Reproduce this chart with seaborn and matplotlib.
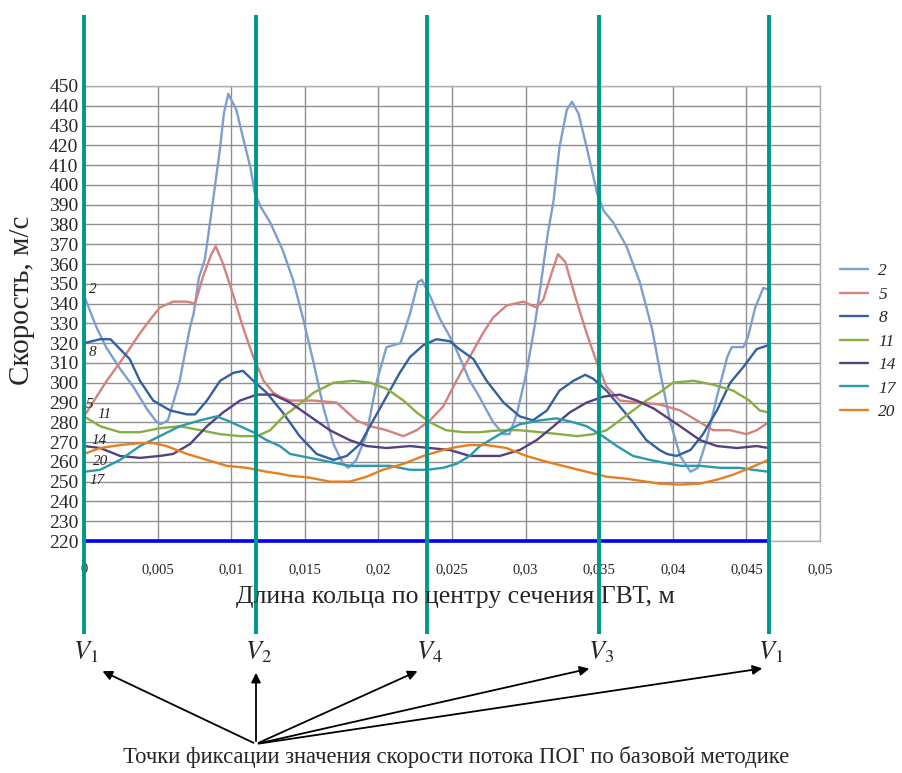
import numpy as np
import pandas as pd
import matplotlib
matplotlib.use("Agg")
import matplotlib.pyplot as plt
import seaborn as sns

# distances along the ring, mm (converted to m below)
x2 = [0, 0.85, 1.5, 2.45, 3.35, 4.25, 4.95, 5.2, 5.7, 6.5, 7.2, 7.45, 7.8, 8.2, 8.45, 8.8, 9.25, 9.5, 9.8,
      10.35, 10.8, 11.3, 11.6, 12.0, 12.65, 13.5, 14.2, 14.9, 15.6, 16.25, 16.95, 17.6, 17.95, 18.5, 19.2,
      19.9, 20.55, 21.5, 22.15, 22.7, 22.95, 23.5, 24.2, 25.1, 25.8, 26.2, 26.7, 27.8, 28.5, 28.9, 29.4,
      30.05, 30.6, 31.0, 31.5, 31.9, 32.3, 32.8, 33.15, 33.6, 34.15, 34.85, 35.3, 35.95, 36.85, 37.75,
      38.6, 39.15, 39.8, 40.5, 41.2, 41.7, 42.3, 43.0, 43.7, 44.0, 44.8, 45.1, 45.6, 46.15, 46.5]
v2 = [344, 328, 318, 307, 298, 287, 280, 279, 281, 301, 328, 335, 353, 362, 375, 394, 419, 436, 446,
      438, 424, 409, 396, 389, 381, 367, 352, 332, 310, 288, 269, 259, 257, 261, 274,
      301, 318, 320, 335, 351, 352, 344, 332, 320, 308, 301, 295, 280, 274, 274, 284,
      305, 328, 348, 375, 392, 419, 438, 442, 436, 419, 396, 387, 381, 369, 351,
      327, 305, 281, 263, 255, 257, 271, 293, 313, 318, 318, 323, 338, 348, 347]

x5 = [0, 1.55, 2.9, 3.8, 4.5, 5.15, 6.05, 7.0, 7.55, 8.1, 8.65, 8.95, 9.45, 10.15, 10.8, 11.5, 12.2, 12.85,
      13.3, 14.0, 15.6, 17.15, 18.5, 19.45, 20.55, 21.7, 22.6, 23.5, 24.4, 25.3, 26.2, 27.1, 27.8, 28.7,
      29.85, 30.75, 31.2, 31.75, 32.2, 32.7, 33.35, 34.15, 34.85, 35.5, 36.4, 37.75, 39.1, 40.5, 41.85,
      42.75, 43.9, 45.0, 45.7, 46.5]
v5 = [283, 301, 315, 325, 332, 338, 341, 341, 340, 354, 365, 369, 360, 344, 328, 313, 301, 295,
      293, 291, 291, 290, 281, 278, 276, 273, 276, 281, 288, 301, 313, 325, 333, 339,
      341, 338, 342, 355, 365, 361, 344, 325, 310, 298, 291, 290, 289, 286, 280,
      276, 276, 274, 276, 280]

x8 = [0, 1.1, 1.8, 2.45, 3.1, 3.8, 4.7, 5.85, 7.0, 7.55, 8.35, 9.25, 10.15, 10.8, 11.5, 12.4, 13.5, 14.65,
      15.8, 16.95, 17.85, 18.75, 19.65, 20.55, 21.45, 22.15, 23.05, 23.95, 24.85, 25.5, 26.45, 27.35, 28.5,
      29.6, 30.5, 31.45, 32.3, 33.25, 34.05, 34.6, 35.5, 36.4, 37.3, 38.2, 39.1, 39.6, 40.25, 41.2, 42.05,
      43.0, 43.9, 44.8, 45.7, 46.5]
v8 = [320, 322, 322, 317, 312, 301, 291, 286, 284, 284, 291, 301, 305, 306, 301, 295, 285, 273,
      264, 261, 263, 269, 281, 293, 305, 313, 319, 322, 321, 317, 312, 301, 290,
      283, 281, 286, 296, 301, 304, 302, 296, 288, 280, 271, 266, 264, 263, 266, 274,
      286, 300, 308, 317, 319]

x11 = [0, 1.1, 2.45, 3.8, 5.15, 6.5, 7.9, 9.25, 10.6, 11.75, 12.65, 13.55, 14.45, 15.6, 16.95, 18.3, 19.45,
       20.55, 21.7, 22.6, 23.5, 24.6, 25.75, 26.9, 28.25, 29.6, 31.0, 32.3, 33.5, 34.6, 35.5, 36.4, 37.3,
       38.2, 39.1, 40.0, 41.4, 42.75, 44.1, 45.2, 45.9, 46.5]
v11 = [283, 278, 275, 275, 277, 278, 276, 274, 273, 273, 276, 283, 288, 295, 300, 301, 300,
       297, 291, 285, 280, 276, 275, 275, 276, 276, 275, 274, 273, 274, 276, 281, 286,
       291, 295, 300, 301, 299, 296, 291, 286, 285]

x14 = [0, 1.1, 2.45, 3.8, 5.15, 6.05, 7.2, 8.35, 9.45, 10.6, 11.75, 12.85, 14.0, 15.35, 16.7, 18.05, 19.2,
       20.55, 22.15, 23.5, 24.85, 26.2, 26.9, 28.25, 29.6, 30.75, 31.9, 33.0, 34.15, 35.3, 36.4, 37.55,
       38.7, 39.1, 40.5, 41.85, 43.0, 44.35, 45.7, 46.5]
v14 = [268, 267, 263, 262, 263, 264, 269, 278, 285, 291, 294, 294, 290, 283, 276, 271, 268,
       267, 268, 267, 266, 263, 263, 263, 266, 271, 278, 285, 290, 293, 294, 291,
       287, 285, 278, 271, 268, 267, 268, 267]

x17 = [0, 1.1, 2.45, 3.8, 5.15, 6.5, 7.9, 9.0, 9.7, 10.6, 11.5, 12.4, 13.3, 14.0, 15.35, 16.7, 18.05, 19.45,
       20.8, 22.15, 23.3, 24.4, 25.3, 26.2, 26.9, 28.25, 29.6, 31.0, 32.1, 33.25, 34.15, 35.05, 36.2, 37.3,
       38.45, 39.1, 40.5, 41.85, 43.2, 44.55, 45.45, 46.5]
v17 = [255, 256, 261, 268, 273, 278, 281, 283, 281, 278, 275, 271, 268, 264, 262, 260, 258, 258,
       258, 256, 256, 257, 259, 263, 268, 274, 279, 281, 282, 280, 278, 274, 268, 263,
       261, 260, 258, 258, 257, 257, 256, 255]

x20 = [0, 1.1, 2.45, 3.8, 4.7, 5.6, 7.0, 8.35, 9.7, 11.05, 12.4, 13.3, 14.0, 15.35, 16.7, 18.05, 19.2, 20.3,
       21.7, 23.05, 24.4, 25.3, 26.2, 27.35, 28.7, 30.05, 31.45, 32.8, 34.15, 35.5, 36.85, 38.2, 39.1, 40.5,
       41.85, 43.0, 44.1, 45.25, 46.5]
v20 = [264, 267, 268.5, 269.5, 269.5, 268, 264, 261, 258, 257, 255, 254, 253, 252, 250, 250, 252.5, 256,
       259, 263, 266, 267.5, 268.5, 268.5, 267, 263, 260, 257.5, 255, 252.5, 251.5, 250, 249, 248.5,
       249, 251, 253.5, 257, 261]

series_names = ['2', '5', '8', '11', '14', '17', '20']
series_x = [x2, x5, x8, x11, x14, x17, x20]
series_v = [v2, v5, v8, v11, v14, v17, v20]
colors = ['#7F9ED0', '#D4827F', '#33609F', '#88AD45', '#57407F', '#2C99AD', '#E67E22']

# fixing points V1, V2, V4, V3, V1 (m)
v_pos = [0.0, 0.01166, 0.02330, 0.03497, 0.04654]
v_names = ['$V_1$', '$V_2$', '$V_4$', '$V_3$', '$V_1$']
base_level = 220

xticks = [0, 0.005, 0.01, 0.015, 0.02, 0.025, 0.03, 0.035, 0.04, 0.045, 0.05]
xtick_labels = ['0', '0,005', '0,01', '0,015', '0,02', '0,025', '0,03', '0,035', '0,04', '0,045', '0,05']
yticks = list(range(220, 451, 10))

rows = []
for name, xs, vs in zip(series_names, series_x, series_v):
    for a, b in zip(xs, vs):
        rows.append((a / 1000.0, b, name))
df = pd.DataFrame(rows, columns=['x', 'v', 'series'])

sns.set_style('white')
plt.rcParams['font.family'] = ['Liberation Serif', 'DejaVu Serif']
plt.rcParams['mathtext.fontset'] = 'stix'

W, H = 903, 773
fig = plt.figure(figsize=(W / 100, H / 100), dpi=100)
ax = fig.add_axes([84 / W, 1 - 541 / H, (820 - 84) / W, (541 - 86) / H])

def fx(px):
    return px / W

def fy(py):
    return 1 - py / H

sns.lineplot(data=df, x='x', y='v', hue='series', palette=colors, hue_order=series_names,
             estimator=None, sort=False, lw=1.7, ax=ax)

ax.set_xlim(0, 0.05)
ax.set_ylim(220, 450)
ax.set_xticks(xticks)
ax.set_xticklabels(xtick_labels, fontsize=10.5)
ax.set_yticks(yticks)
ax.set_yticklabels([str(t) for t in yticks], fontsize=14)
ax.tick_params(axis='x', length=0, pad=16)
ax.tick_params(axis='y', length=0, pad=4)
ax.grid(True, color='#8f8f8f', lw=1.0)
ax.set_axisbelow(True)
for s in ax.spines.values():
    s.set_color('#b0b0b0')
    s.set_linewidth(1.0)
ax.set_xlabel('')
ax.set_ylabel('')

# base level line
ax.plot([v_pos[0], v_pos[-1]], [base_level, base_level], color='#0000FF', lw=2.6, zorder=5, clip_on=False)
# fixing point lines
ax.vlines(v_pos, 173, 486, colors='#00968C', lw=2.8, zorder=6, clip_on=False)

# curve labels
lbl_pos = {'2': (0.0006, 347), '8': (0.0006, 315.5), '5': (0.0004, 289), '11': (0.0014, 283.7),
           '14': (0.001, 271), '20': (0.0011, 260), '17': (0.0009, 250.8)}
for k, (a, b) in lbl_pos.items():
    ax.text(a, b, k, fontsize=11, style='italic', ha='center', va='center', zorder=7)

# legend
handles, labels = ax.get_legend_handles_labels()
leg = ax.legend(handles, labels, loc='upper left', bbox_to_anchor=(1.006, 0.645), frameon=False,
                handlelength=1.6, handletextpad=0.6, labelspacing=0.42,
                prop={'size': 12.5, 'style': 'italic'})

fig.text(fx(455), fy(597), 'Длина кольца по центру сечения ГВТ, м', fontsize=18.5, ha='center', va='center')
fig.text(fx(22), fy(300), 'Скорость, м/с', fontsize=21, rotation=90, ha='center', va='center')
fig.text(fx(456), fy(757), 'Точки фиксации значения скорости потока ПОГ по базовой методике',
         fontsize=16.3, ha='center', va='center')

v_px = [84, 256, 427, 599, 769]
for p, n in zip(v_px, v_names):
    fig.text(fx(p + 2), fy(652), n, fontsize=19, ha='center', va='center')

tips = [(100, 670), (256, 670), (420, 670), (592, 668), (765, 668)]
for tx, ty in tips:
    ax.annotate('', xy=(fx(tx), fy(ty)), xycoords='figure fraction',
                xytext=(fx(256), fy(744)), textcoords='figure fraction',
                arrowprops=dict(arrowstyle='-|>', color='black', lw=1.3, mutation_scale=14))

fig.savefig('out.png', dpi=100)
